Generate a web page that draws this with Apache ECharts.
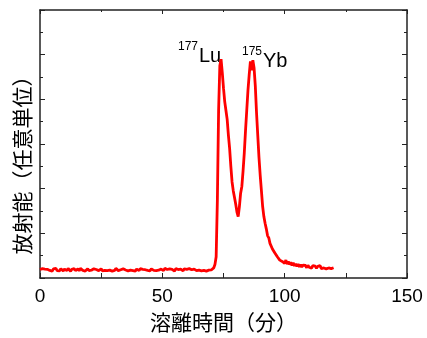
<!DOCTYPE html>
<html><head><meta charset="utf-8">
<script src="https://cdn.jsdelivr.net/npm/echarts@6/dist/echarts.min.js"></script>
<style>html,body{margin:0;padding:0;background:#fff}#c{width:427px;height:338px}</style>
</head><body><div id="c"></div>
<script>
const xTitle = '溶離時間（分）';
const yTitle = '放射能（任意単位）';
const xTicks = [0, 50, 100, 150];
const peakLabels = [{sup: '177', main: 'Lu'}, {sup: '175', main: 'Yb'}];

// baseline readings, every 0.5 min from 0 to 71
const baseTimes = [];
for (let i = 0; i <= 142; i++) baseTimes.push(i / 2);
const baseValues = [
0.38,0.31,0.42,0.34,0.40,0.33,0.39,0.44,0.34,0.38,
0.31,0.41,0.36,0.43,0.33,0.38,0.32,0.42,0.37,0.31,
0.40,0.36,0.33,0.43,0.36,0.30,0.39,0.34,0.42,0.33,
0.37,0.41,0.32,0.43,0.35,0.34,0.40,0.31,0.37,0.42,
0.33,0.39,0.35,0.30,0.41,0.34,0.38,0.44,0.33,0.36,
0.41,0.32,0.39,0.34,0.42,0.33,0.37,0.35,0.41,0.31,
0.39,0.34,0.43,0.36,0.33,0.39,0.37,0.31,0.41,0.34,
0.36,0.42,0.32,0.39,0.35,0.43,0.33,0.38,0.31,0.40,
0.36,0.33,0.42,0.35,0.39,0.31,0.37,0.43,0.34,0.38,
0.32,0.41,0.36,0.34,0.42,0.33,0.39,0.35,0.30,0.40,
0.37,0.33,0.43,0.35,0.38,0.32,0.41,0.34,0.39,0.36,
0.31,0.42,0.35,0.38,0.33,0.40,0.36,0.32,0.41,0.34,
0.39,0.33,0.42,0.35,0.37,0.31,0.40,0.36,0.33,0.41,
0.35,0.38,0.32,0.39,0.34,0.37,0.31,0.38,0.35,0.40,
0.36,0.39,0.45];

const peakTimes = [71.5,72,72.5,73,73.5,74,74.5,75,75.5,76,76.5,77,77.5,78,78.5,79,79.5,80,80.5,81,81.5,82,82.5,83,83.5,84,84.5,85,85.5,86,86.5,87,87.5,88,88.5,89,89.5,90,90.5,91,91.5,92,92.5,93,93.5,94,94.5,95,95.5,96,96.5,97,97.5,98,98.5,99,99.5];
const peakValues = [0.6,0.95,3.5,7.5,9.5,9.8,9.2,8.5,7.9,7.5,7.1,6.4,5.8,5.0,4.3,3.9,3.6,3.3,2.95,2.75,3.2,3.8,4.1,4.8,5.6,6.6,7.5,8.4,9.1,9.7,9.3,9.75,9.4,8.6,7.4,6.4,5.4,4.6,3.9,3.2,2.75,2.45,2.2,1.9,1.8,1.55,1.5,1.3,1.35,1.12,1.15,0.95,0.98,0.8,0.88,0.74,0.8];

const tailTimes = [100,100.5,101,101.5,102,102.5,103,103.5,104,104.5,105,105.5,106,106.5,107,107.5,108,108.5,109,109.5,110,110.5,111,111.5,112,112.5,113,113.5,114,114.5,115,115.5,116,116.5,117,117.5,118,118.5,119,119.5,120];
const tailValues = [0.66,0.8,0.62,0.74,0.6,0.7,0.56,0.68,0.54,0.64,0.52,0.62,0.5,0.6,0.49,0.58,0.5,0.56,0.46,0.57,0.48,0.54,0.44,0.55,0.47,0.53,0.43,0.52,0.46,0.55,0.42,0.5,0.45,0.52,0.41,0.49,0.45,0.5,0.42,0.48,0.46];

const times = baseTimes.concat(peakTimes, tailTimes);
const values = baseValues.concat(peakValues, tailValues);
const seriesData = times.map((t, i) => [t, values[i]]);

const chart = echarts.init(document.getElementById('c'), null, {renderer: 'canvas'});
const axisLine = {show: true, onZero: false, lineStyle: {color: '#222', width: 1.5}};
const numFont = 'Liberation Sans';
const cjkFont = 'Noto Sans CJK JP';

chart.setOption({
  animation: false,
  backgroundColor: '#fff',
  grid: {left: 40, right: 20, top: 10, bottom: 59},
  xAxis: [{
    type: 'value', min: 0, max: 150, interval: 25, position: 'bottom',
    axisLine: axisLine,
    axisTick: {show: true, inside: true, length: 5, lineStyle: {color: '#222', width: 1}},
    axisLabel: {show: true, margin: 9, color: '#000', fontSize: 19, fontFamily: numFont,
      formatter: v => xTicks.indexOf(v) >= 0 ? String(v) : ''},
    splitLine: {show: false},
    name: xTitle, nameLocation: 'middle', nameGap: 34,
    nameTextStyle: {color: '#000', fontSize: 21, fontFamily: cjkFont}
  }, {
    type: 'value', min: 0, max: 150, interval: 50, position: 'top',
    axisLine: axisLine,
    axisTick: {show: true, inside: true, length: 4, lineStyle: {color: '#222', width: 1}},
    minorTick: {show: true, splitNumber: 2, length: 2, lineStyle: {color: '#222', width: 1}},
    axisLabel: {show: false}, splitLine: {show: false}
  }],
  yAxis: [{
    type: 'value', min: 0, max: 12, interval: 2, position: 'left',
    axisLine: axisLine,
    axisTick: {show: true, inside: true, length: 5, lineStyle: {color: '#222', width: 1}},
    minorTick: {show: true, splitNumber: 2, length: 3, lineStyle: {color: '#222', width: 1}},
    axisLabel: {show: false}, splitLine: {show: false}
  }, {
    type: 'value', min: 0, max: 12, interval: 2, position: 'right',
    axisLine: axisLine,
    axisTick: {show: true, inside: true, length: 5, lineStyle: {color: '#222', width: 1}},
    minorTick: {show: true, splitNumber: 2, length: 3, lineStyle: {color: '#222', width: 1}},
    axisLabel: {show: false}, splitLine: {show: false}
  }],
  series: [{
    type: 'line', xAxisIndex: 0, yAxisIndex: 0,
    data: seriesData, showSymbol: false, symbol: 'none',
    lineStyle: {color: '#ff0000', width: 2.8}
  }],
  graphic: [
    {type: 'text', rotation: Math.PI / 2, x: 22, y: 160,
      style: {x: 0, y: 0, text: yTitle, fill: '#000', font: '21px "Noto Sans CJK JP"', align: 'center', verticalAlign: 'middle'}},
    {type: 'text', style: {x: 178, y: 47, text: peakLabels[0].sup, fill: '#000', font: '12px "Liberation Sans"', verticalAlign: 'middle'}},
    {type: 'text', style: {x: 199, y: 56, text: peakLabels[0].main, fill: '#000', font: '20px "Liberation Sans"', verticalAlign: 'middle'}},
    {type: 'text', style: {x: 242, y: 52, text: peakLabels[1].sup, fill: '#000', font: '12px "Liberation Sans"', verticalAlign: 'middle'}},
    {type: 'text', style: {x: 263, y: 61, text: peakLabels[1].main, fill: '#000', font: '20px "Liberation Sans"', verticalAlign: 'middle'}}
  ]
});
</script></body></html>
